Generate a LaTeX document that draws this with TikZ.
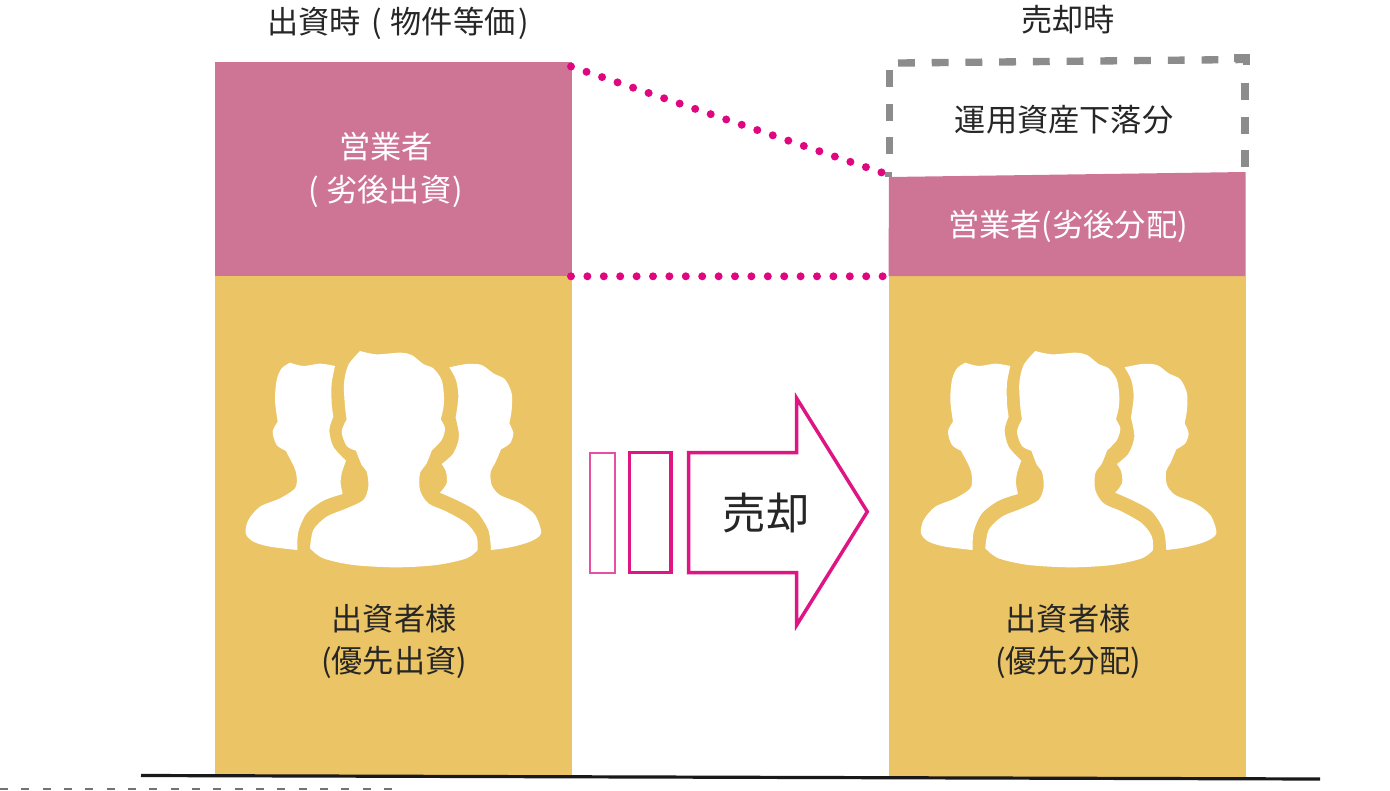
\documentclass[tikz,border=0pt]{standalone}
\usepackage{fontspec}
\setmainfont{Noto Sans CJK JP}
\definecolor{rosefill}{HTML}{CE7596}
\definecolor{goldfill}{HTML}{EBC466}
\definecolor{hotpink}{HTML}{DE1583}
\definecolor{dotpink}{HTML}{E0067F}
\definecolor{dashgray}{HTML}{8C8C8C}
\definecolor{inktext}{HTML}{262626}
\tikzset{
  barbox/.style={inner sep=0pt,outer sep=0pt,minimum width=267.75pt},
  darklabel/.style={text=inktext,font=\fontsize{23.4pt}{25pt}\selectfont,inner sep=0pt},
  lightlabel/.style={text=white,font=\fontsize{23.4pt}{25pt}\selectfont,inner sep=0pt},
  dotline/.style={dotpink,line width=6pt,line cap=round,dash pattern=on 0pt off 12.3pt},
  graydash/.style={dashgray,line width=5.5pt,dash pattern=on 12.6pt off 12.7pt},
  smoothseg/.style={smooth,tension=.5},
}
\newcommand{\peoplepic}{%
  \fill[white] plot[smoothseg] coordinates {(420,33)(470,43)(540,38)(575,45)(610,72)(640,85)(665,120)(672,170)(670,205)(662,238)}
    -- plot[smoothseg] coordinates {(662,238)(675,265)(665,300)(635,332)}
    -- plot[smoothseg] coordinates {(635,332)(620,370)(600,400)(600,450)(625,490)(680,515)(740,550)(770,590)(773,630)}
    -- plot[smoothseg] coordinates {(773,630)(740,655)(650,675)(530,682)(400,675)(310,655)(270,625)}
    -- plot[smoothseg] coordinates {(270,625)(280,570)(320,530)(380,505)(430,480)(445,440)(440,395)(425,375)(408,332)}
    -- plot[smoothseg] coordinates {(408,332)(380,318)(365,275)(380,238)}
    -- plot[smoothseg] coordinates {(380,238)(375,200)(372,130)(385,75)(420,33)} -- cycle;
  \fill[white] plot[smoothseg] coordinates {(210,68)(250,78)(300,71)(345,78)}
    -- plot[smoothseg] coordinates {(345,78)(335,130)(335,190)(340,230)}
    -- plot[smoothseg] coordinates {(340,230)(328,270)(340,320)(378,362)}
    -- plot[smoothseg] coordinates {(378,362)(365,400)(362,430)(368,462)}
    -- plot[smoothseg] coordinates {(368,462)(310,482)(260,520)(235,575)(232,630)}
    -- plot[smoothseg] coordinates {(232,630)(150,620)(100,605)(77,580)(85,540)(120,500)(180,475)(225,445)(230,410)(222,380)(197,332)}
    -- plot[smoothseg] coordinates {(197,332)(170,315)(158,275)(173,245)}
    -- plot[smoothseg] coordinates {(173,245)(165,180)(170,120)(185,85)(210,68)} -- cycle;
  \fill[white] plot[smoothseg] coordinates {(688,82)(740,72)(785,75)(820,100)(855,118)(875,160)(875,210)(868,250)}
    -- plot[smoothseg] coordinates {(868,250)(880,280)(870,310)(843,328)}
    -- plot[smoothseg] coordinates {(843,328)(825,370)(812,395)(815,435)(840,465)(900,490)(945,525)(963,580)(930,605)(870,622)(813,630)}
    -- plot[smoothseg] coordinates {(813,630)(805,570)(770,515)(720,485)(660,458)}
    -- plot[smoothseg] coordinates {(660,458)(680,430)(678,395)(665,372)}
    -- plot[smoothseg] coordinates {(665,372)(700,340)(717,290)(707,233)}
    -- plot[smoothseg] coordinates {(707,233)(715,170)(708,120)(688,82)} -- cycle;
}
\begin{document}
\begin{tikzpicture}[x=.75pt,y=-.75pt]
\useasboundingbox (0,0) rectangle (1390,790);
% left column
\node[barbox,fill=rosefill,minimum height=160.5pt] (lrose) at (393,169) {};
\node[barbox,fill=goldfill,minimum height=375pt] (lgold) at (393,526) {};
% right column
\node[barbox,fill=goldfill,minimum height=375.75pt] (rgold) at (1067,526.5) {};
\coordinate (rnw) at (889,177);
\coordinate (rne) at (1245.5,172);
\fill[rosefill] (rnw) -- (rne) -- (rgold.north east) -- (rgold.north west) -- cycle;
% icons
\begin{scope}[shift={(220,340)},x=.25pt,y=-.25pt]\peoplepic\end{scope}
\begin{scope}[shift={(895.3,340)},x=.25pt,y=-.25pt]\peoplepic\end{scope}
% dashed box
\draw[graydash] (898,63) -- (1245,59.5);
\draw[graydash] (1245,83) -- (1245,168);
\draw[dashgray,line width=5.5pt] (1234,58) -- (1246.5,58) -- (1246.5,65);
\draw[graydash] (889.5,70) -- (889.5,156);
\fill[dashgray] (885,172) rectangle (892,177);
% dotted links
\coordinate (d1) at (571,66.5);
\coordinate (d2) at (882,172.6);
\coordinate (d3) at (571,276.3);
\coordinate (d4) at (883,276.3);
\draw[dotline] (d1) -- (d2);
\draw[dotline] (d3) -- (d4);
% arrow
\coordinate (a1) at (688.7,452.7);
\coordinate (a2) at (796.7,452.7);
\coordinate (a3) at (796.7,398.3);
\coordinate (a4) at (867.3,511.7);
\coordinate (a5) at (796.7,625);
\coordinate (a6) at (796.7,572.7);
\coordinate (a7) at (688.7,572.7);
\draw[hotpink,line width=2.6pt,miter limit=10] (a1) -- (a2) -- (a3) -- (a4) -- (a5) -- (a6) -- (a7) -- cycle;
\draw[hotpink!75,line width=1.7pt] (590,452.7) rectangle (615,572.7);
\draw[hotpink,line width=2.4pt] (629.3,452.7) rectangle (671,572.7);
\node[text=inktext,font=\fontsize{32.6pt}{34pt}\selectfont,inner sep=0pt] (sell) at (766,513) {売却};
% texts
\node[darklabel] (t1) at (398,23) {出資時\hspace{3pt} ( \hspace{1pt}物件等価\hspace{2pt})};
\node[darklabel] (t2) at (1068,20) {売却時};
\node[lightlabel] (t3) at (386,147) {営業者};
\node[lightlabel] (t4) at (386,191) {( 劣後出資\hspace{1pt})};
\node[darklabel] (t5) at (394,619) {出資者様};
\node[darklabel] (t6) at (394,662) {(優先出資)};
\node[darklabel] (t7) at (1064,120) {運用資産下落分};
\node[lightlabel] (t8) at (1068,226) {営業者(劣後分配)};
\node[darklabel] (t9) at (1068,619) {出資者様};
\node[darklabel] (t10) at (1068,662) {(優先分配)};
% baseline
\coordinate (b1) at (141,775.5);
\coordinate (b2) at (1320,779);
\draw[black!90,line width=2.4pt] (b1) -- (b2);
% clipped remnant of a line of text at the lower edge
\coordinate (f1) at (0,789);
\coordinate (f2) at (400,789);
\draw[black!55,line width=1.5pt,dash pattern=on 6pt off 10pt] (f1) -- (f2);
\end{tikzpicture}
\end{document}
